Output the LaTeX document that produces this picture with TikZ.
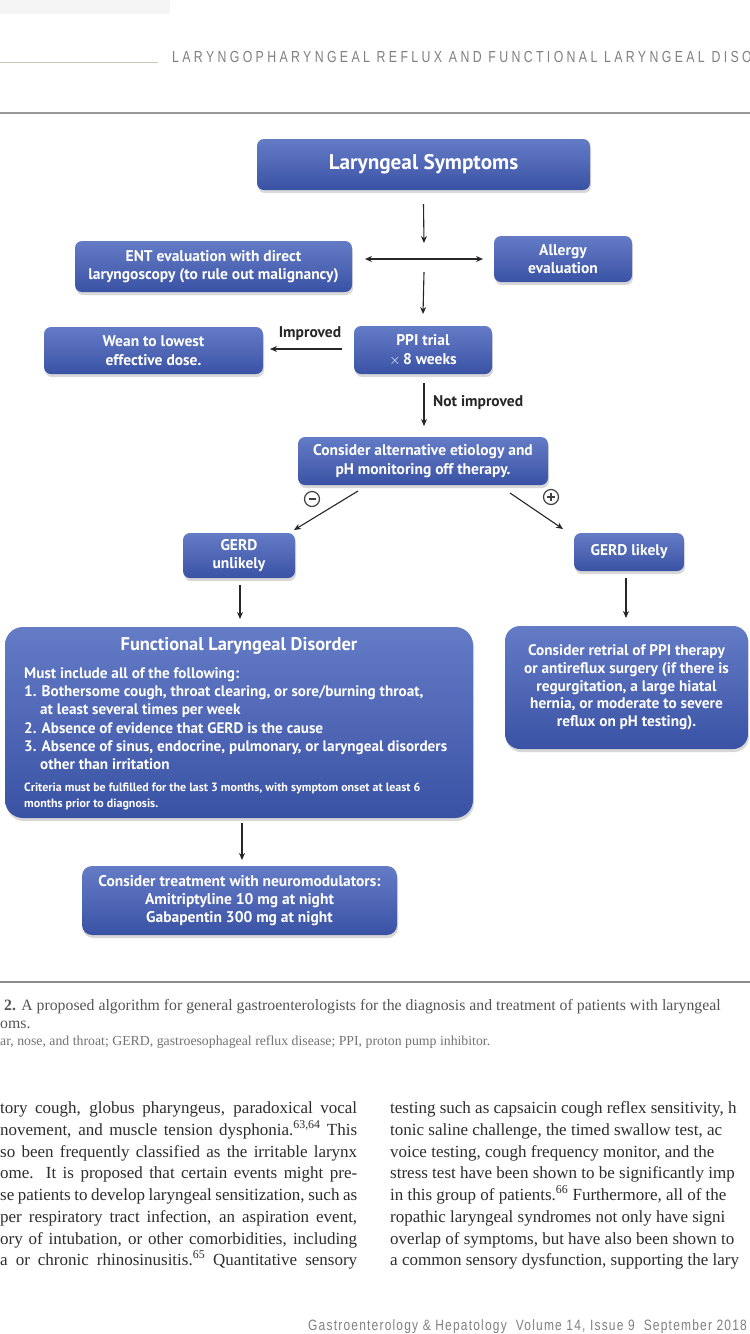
\documentclass[tikz,border=0pt]{standalone}
\usepackage{fontspec}
\setmainfont{Liberation Serif}
\newfontfamily\bx{PT Sans}
\newfontfamily\hdr[FakeStretch=0.77,LetterSpace=21]{Liberation Sans}
\newfontfamily\ftr[FakeStretch=0.8,LetterSpace=8]{Liberation Sans}
\usetikzlibrary{shadows,arrows.meta}
\definecolor{boxtop}{RGB}{100,124,198}
\definecolor{boxbot}{RGB}{58,82,164}
\definecolor{capgray}{RGB}{85,85,85}
\definecolor{bodygray}{RGB}{45,45,45}
\tikzset{
  flowbox/.style={rounded corners=7pt, top color=boxtop, bottom color=boxbot, draw=none,
    text=white, align=center, inner sep=2pt, outer sep=0pt,
    drop shadow={shadow xshift=1pt, shadow yshift=-3pt, opacity=0.3}},
  btxt/.style={font=\bx\bfseries\fontsize{15.5}{18.5}\selectfont},
  arr/.style={-{Stealth[length=7pt,width=6pt]}, line width=1.1pt, draw=black!85},
  lbl/.style={font=\bx\bfseries\fontsize{15.5}{17}\selectfont, text=black!85, inner sep=0pt},
  fl/.style={font=\bx\bfseries\fontsize{15.2}{17}\selectfont, text=white, anchor=base west, inner sep=0pt},
  fls/.style={font=\bx\bfseries\fontsize{12}{14}\selectfont, text=white, anchor=base west, inner sep=0pt},
  sgn/.style={circle, draw=black!75, line width=1.2pt, minimum size=15pt, inner sep=0pt},
  sgnbar/.style={line width=1.4pt, draw=black!75},
  lcol/.style={anchor=base west, inner sep=0pt, font=\fontsize{17}{20}\selectfont, text=bodygray},
  rcol/.style={anchor=base west, inner sep=0pt, font=\fontsize{17}{20}\selectfont, text=bodygray},
}
\newcommand{\jline}[1]{\hbox to 357pt{\spaceskip=.25em plus 3em minus .15em #1}}
\begin{document}
\begin{tikzpicture}[x=1pt,y=-1pt]
\useasboundingbox (0,0) rectangle (750,1334);
\clip (0,0) rectangle (750,1334);
\fill[white] (0,0) rectangle (750,1334);
\fill[black!4] (0,0) rectangle (170,14);
% header
\draw[line width=1pt, draw={rgb,255:red,200;green,200;blue,185}] (0,62) -- (158,62);
\node[anchor=base west, inner sep=0pt, text=black!50, font=\hdr\fontsize{16}{18}\selectfont] (hdr) at (172,62.5) {LARYNGOPHARYNGEAL REFLUX AND FUNCTIONAL LARYNGEAL DISO};
\draw[line width=2pt, draw=black!40] (0,113) -- (750,113);

% boxes
\node[flowbox, minimum width=333pt, minimum height=51pt, font=\bx\bfseries\fontsize{21.2}{24}\selectfont] (sym) at (423.5,164.5) {Laryngeal Symptoms};
\node[flowbox, btxt, minimum width=277pt, minimum height=51pt] (ent) at (213.5,266.5) {ENT evaluation with direct\\laryngoscopy (to rule out malignancy)};
\node[flowbox, btxt, minimum width=138pt, minimum height=46pt] (all) at (563,259) {Allergy\\evaluation};
\node[flowbox, btxt, minimum width=219pt, minimum height=47pt] (wean) at (153.5,350.5) {Wean to lowest\\effective dose.};
\node[flowbox, btxt, minimum width=138pt, minimum height=48pt] (ppi) at (423,350) {PPI trial\\$\times$\,8 weeks};
\node[flowbox, btxt, minimum width=250pt, minimum height=48pt] (alt) at (423,461) {Consider alternative etiology and\\pH monitoring off therapy.};
\node[flowbox, btxt, minimum width=112pt, minimum height=45pt] (unl) at (239,555.5) {GERD\\unlikely};
\node[flowbox, btxt, minimum width=110pt, minimum height=38pt] (lik) at (629,552) {GERD likely};
\node[flowbox, rounded corners=18pt, minimum width=468pt, minimum height=191pt] (fld) at (239,722.5) {};
\node[flowbox, rounded corners=15pt, minimum width=243pt, minimum height=123pt, font=\bx\bfseries\fontsize{15.3}{17.7}\selectfont] (ret) at (626.5,687.5) {Consider retrial of PPI therapy\\or antireflux surgery (if there is\\regurgitation, a large hiatal\\hernia, or moderate to severe\\reflux on pH testing).};
\node[flowbox, rounded corners=10pt, minimum width=315pt, minimum height=69pt, font=\bx\bfseries\fontsize{15.5}{18}\selectfont] (neu) at (239.5,900.5) {Consider treatment with neuromodulators:\\Amitriptyline 10 mg at night\\Gabapentin 300 mg at night};

% FLD text
\node[font=\bx\bfseries\fontsize{18.4}{20}\selectfont, text=white, inner sep=0pt] (fldt) at (239,646) {Functional Laryngeal Disorder};
\node[fl] (f1) at (24,678) {Must include all of the following:};
\node[fl] (f2) at (24,696.5) {1. Bothersome cough, throat clearing, or sore/burning throat,};
\node[fl] (f3) at (40,714.5) {at least several times per week};
\node[fl] (f4) at (24,733) {2. Absence of evidence that GERD is the cause};
\node[fl] (f5) at (24,751.5) {3. Absence of sinus, endocrine, pulmonary, or laryngeal disorders};
\node[fl] (f6) at (40,769.5) {other than irritation};
\node[fls] (f7) at (24,791) {Criteria must be fulfilled for the last 3 months, with symptom onset at least 6};
\node[fls] (f8) at (24,807) {months prior to diagnosis.};

% connectors
\coordinate (c1) at (424,243);
\coordinate (c2) at (424,272);
\coordinate (hl) at (365,259);
\coordinate (hr) at (483,259);
\draw[arr] (sym.south |- 0,204) -- (c1);
\draw[arr, {Stealth[length=7pt,width=6pt]}-{Stealth[length=7pt,width=6pt]}] (hl) -- (hr);
\draw[arr] (c2) -- (ppi.north |- 0,314);
\coordinate (i1) at (342,349);
\coordinate (i2) at (270,349);
\draw[arr] (i1) -- (i2);
\node[lbl] (imp) at (310,334) {Improved};
\coordinate (n1) at (424,383);
\coordinate (n2) at (424,426);
\draw[arr] (n1) -- (n2);
\node[lbl, anchor=west] (nimp) at (433,403) {Not improved};
\coordinate (m1) at (358,491);
\coordinate (m2) at (294,530);
\draw[arr] (m1) -- (m2);
\coordinate (p1) at (510,493);
\coordinate (p2) at (563,529);
\draw[arr] (p1) -- (p2);
\node[sgn] (minus) at (312,499) {};
\draw[sgnbar] ([xshift=-3.5pt]minus.center) -- ([xshift=3.5pt]minus.center);
\node[sgn] (plus) at (551,497) {};
\draw[sgnbar] ([xshift=-4pt]plus.center) -- ([xshift=4pt]plus.center);
\draw[sgnbar] ([yshift=-4pt]plus.center) -- ([yshift=4pt]plus.center);
\coordinate (u1) at (240,585);
\coordinate (u2) at (240,619);
\draw[arr] (u1) -- (u2);
\coordinate (l1) at (626,578);
\coordinate (l2) at (626,618);
\draw[arr] (l1) -- (l2);
\coordinate (d1) at (242,823);
\coordinate (d2) at (242,860);
\draw[arr] (d1) -- (d2);

% caption
\draw[line width=2pt, draw=black!45] (0,982) -- (750,982);
\node[anchor=base west, inner sep=0pt, text=capgray, font=\fontsize{15.8}{18}\selectfont] (cap1) at (4,1010) {\textbf{2.} A proposed algorithm for general gastroenterologists for the diagnosis and treatment of patients with laryngeal};
\node[anchor=base west, inner sep=0pt, text=capgray, font=\fontsize{15.8}{18}\selectfont] (cap2) at (0,1028) {oms.};
\node[anchor=base west, inner sep=0pt, text=black!55, font=\fontsize{13.8}{16}\selectfont] (cap3) at (0,1045.5) {ar, nose, and throat; GERD, gastroesophageal reflux disease; PPI, proton pump inhibitor.};

% body text left
\node[lcol] (b1) at (0,1113) {\jline{tory cough, globus pharyngeus, paradoxical vocal}};
\node[lcol] (b2) at (0,1135) {\jline{novement, and muscle tension dysphonia.\textsuperscript{63,64} This}};
\node[lcol] (b3) at (0,1157) {\jline{so been frequently classified as the irritable larynx}};
\node[lcol] (b4) at (0,1178) {\jline{ome. It is proposed that certain events might pre-}};
\node[lcol] (b5) at (0,1200) {\jline{se patients to develop laryngeal sensitization, such as}};
\node[lcol] (b6) at (0,1222) {\jline{per respiratory tract infection, an aspiration event,}};
\node[lcol] (b7) at (0,1244) {\jline{ory of intubation, or other comorbidities, including}};
\node[lcol] (b8) at (0,1265) {\jline{a or chronic rhinosinusitis.\textsuperscript{65} Quantitative sensory}};
% body text right
\node[rcol] (r1) at (390,1113) {testing such as capsaicin cough reflex sensitivity, h};
\node[rcol] (r2) at (390,1135) {tonic saline challenge, the timed swallow test, ac};
\node[rcol] (r3) at (390,1157) {voice testing, cough frequency monitor, and the};
\node[rcol] (r4) at (390,1178) {stress test have been shown to be significantly imp};
\node[rcol] (r5) at (390,1200) {in this group of patients.\textsuperscript{66} Furthermore, all of the};
\node[rcol] (r6) at (390,1222) {ropathic laryngeal syndromes not only have signi};
\node[rcol] (r7) at (390,1244) {overlap of symptoms, but have also been shown to};
\node[rcol] (r8) at (390,1265) {a common sensory dysfunction, supporting the lary};
% footer
\node[anchor=base west, inner sep=0pt, text=black!50, font=\ftr\fontsize{15}{17}\selectfont] (ftr) at (308,1330) {Gastroenterology \& Hepatology\ \ Volume 14, Issue 9\ \ September 2018};
\end{tikzpicture}
\end{document}
